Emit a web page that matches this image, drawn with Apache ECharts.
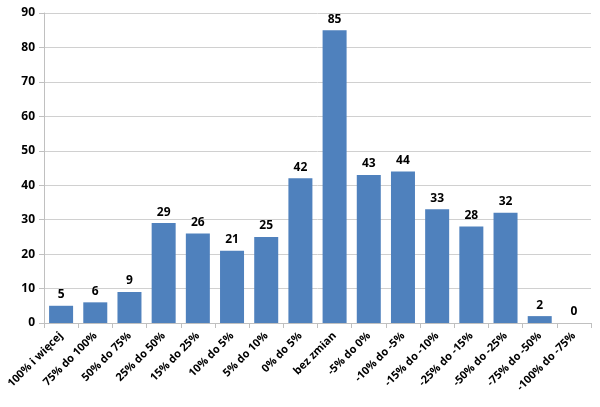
<!DOCTYPE html>
<html>
<head>
<meta charset="utf-8">
<script src="https://cdn.jsdelivr.net/npm/echarts@6/dist/echarts.min.js"></script>
<style>
html,body{margin:0;padding:0;background:#fff;}
#chart{width:600px;height:407px;}
</style>
</head>
<body>
<div id="chart"></div>
<script>
var categories = ['100% i więcej', '75% do 100%', '50% do 75%', '25% do 50%', '15% do 25%', '10% do 5%', '5% do 10%', '0% do 5%', 'bez zmian', '-5% do 0%', '-10% do -5%', '-15% do -10%', '-25% do -15%', '-50% do -25%', '-75% do -50%', '-100% do -75%'];
var counts = [5, 6, 9, 29, 26, 21, 25, 42, 85, 43, 44, 33, 28, 32, 2, 0];

var chart = echarts.init(document.getElementById('chart'));
chart.setOption({
	animation: false,
	grid: {left: 44, right: 9, top: 13, bottom: 84, containLabel: false},
	xAxis: {
		type: 'category',
		data: categories,
		axisLine: {lineStyle: {color: '#c0c0c0'}},
		axisTick: {show: true, alignWithLabel: false, length: 5, lineStyle: {color: '#c0c0c0'}},
		axisLabel: {
			interval: 0,
			rotate: 45,
			color: '#000',
			fontFamily: 'Open Sans',
			fontWeight: 'bold',
			fontSize: 11,
			margin: 11
		}
	},
	yAxis: {
		type: 'value',
		min: 0,
		max: 90,
		interval: 10,
		axisLine: {show: true, lineStyle: {color: '#c0c0c0'}},
		axisTick: {show: true, length: 5, lineStyle: {color: '#c0c0c0'}},
		splitLine: {lineStyle: {color: '#d0d0d0'}},
		axisLabel: {color: '#000', fontFamily: 'Open Sans', fontWeight: 'bold', fontSize: 12, margin: 9}
	},
	series: [{
		type: 'bar',
		data: counts,
		barWidth: 24,
		itemStyle: {color: '#4f81bd'},
		label: {
			show: true,
			position: 'top',
			distance: 5,
			color: '#000',
			fontFamily: 'Open Sans',
			fontWeight: 'bold',
			fontSize: 12
		}
	}]
});
</script>
</body>
</html>
